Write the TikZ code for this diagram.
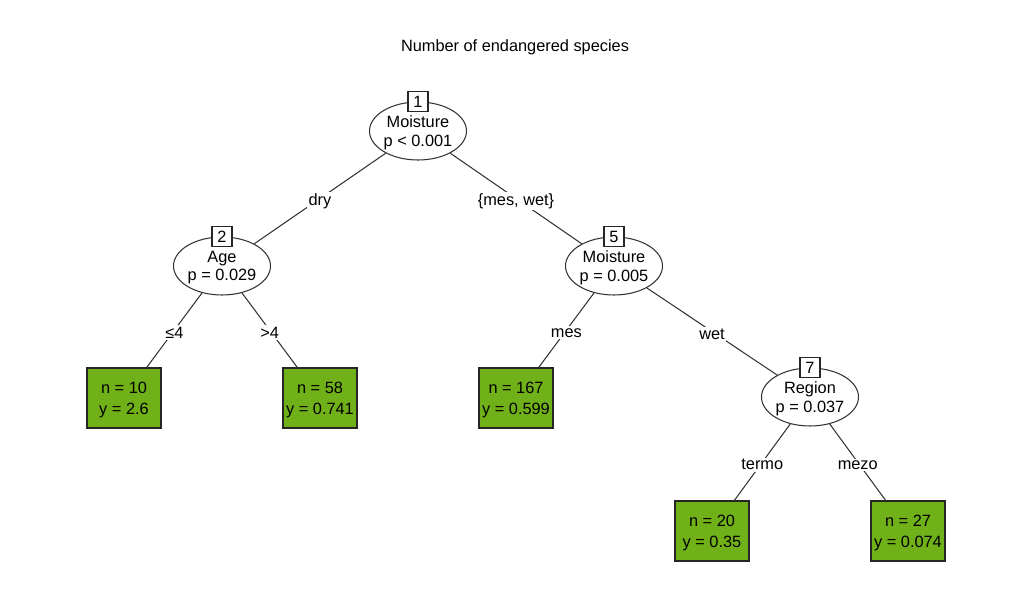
\documentclass[tikz,border=0pt]{standalone}
\usepackage{fontspec}
\setmainfont{Liberation Sans}
\usepackage{tikz}
\usetikzlibrary{shapes.geometric}
\definecolor{leafgreen}{RGB}{112,176,24}

\begin{document}
\begin{tikzpicture}[x=0.02cm,y=-0.02cm,font=\fontsize{9.3}{10.4}\selectfont]
\tikzstyle{inner}=[ellipse,draw=black!80,line width=0.6pt,minimum width=1.8cm,minimum height=1.16cm,inner sep=0pt,align=center,text depth=0pt]
\tikzstyle{leaf}=[rectangle,draw=black!85,fill=leafgreen,line width=0.6pt,minimum width=1.48cm,minimum height=1.2cm,inner sep=0pt,align=center,text depth=0pt,font=\fontsize{9.3}{11.8}\selectfont]
\tikzstyle{numbox}=[rectangle,draw=black!85,fill=white,line width=0.6pt,minimum size=0.4cm,inner sep=0pt]
\tikzstyle{lbl}=[fill=white,inner sep=1pt,yshift=-0.05cm]
\tikzstyle{edge}=[draw=black!80,line width=0.6pt]
\useasboundingbox (0,0) rectangle (1015,612);
\node (title) at (515,47) {Number of endangered species};
\node[inner] (1) at (418,131) {Moisture\\p < 0.001};
\node[inner] (2) at (222,266) {Age\\p = 0.029};
\node[inner] (5) at (614,266) {Moisture\\p = 0.005};
\node[inner] (7) at (810,397) {Region\\p = 0.037};
\node[leaf] (3) at (124,398) {n = 10\\y = 2.6};
\node[leaf] (4) at (320,398) {n = 58\\y = 0.741};
\node[leaf] (6) at (516,398) {n = 167\\y = 0.599};
\node[leaf] (8) at (712,531) {n = 20\\y = 0.35};
\node[leaf] (9) at (908,531) {n = 27\\y = 0.074};
\draw[edge] (1) -- node[lbl] {dry} (2);
\draw[edge] (1) -- node[lbl] {\{mes, wet\}} (5);
\draw[edge] (2) -- node[lbl] {≤4} (3);
\draw[edge] (2) -- node[lbl] {>4} (4);
\draw[edge] (5) -- node[lbl] {mes} (6);
\draw[edge] (5) -- node[lbl] {wet} (7);
\draw[edge] (7) -- node[lbl] {termo} (8);
\draw[edge] (7) -- node[lbl] {mezo} (9);
\node[numbox] (b1) at (1.north) {1};
\node[numbox] (b2) at (2.north) {2};
\node[numbox] (b5) at (5.north) {5};
\node[numbox] (b7) at (7.north) {7};
\end{tikzpicture}
\end{document}
